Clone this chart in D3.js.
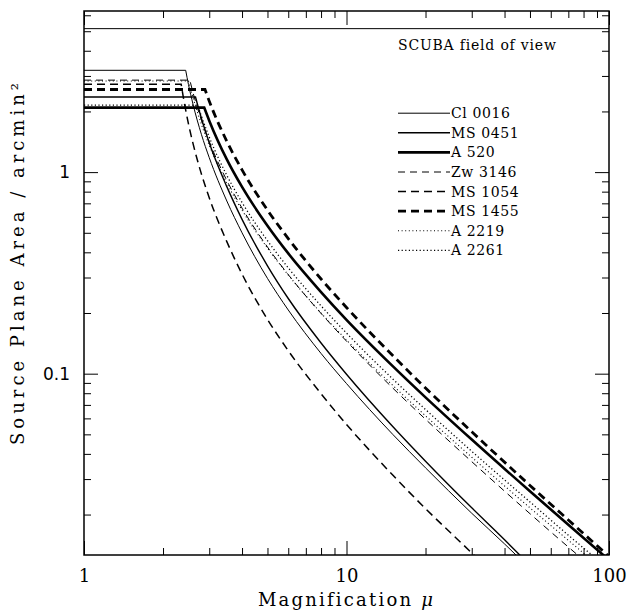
<!DOCTYPE html>
<html>
<head>
<meta charset="utf-8">
<script src="https://cdn.jsdelivr.net/npm/d3@7"></script>
<style>
  html, body { margin: 0; padding: 0; background: #fff; }
  svg { display: block; }
</style>
</head>
<body>
<div id="chart"></div>
<script>
// ---- data ----
const seriesNames = ["Cl 0016", "MS 0451", "A 520", "Zw 3146", "MS 1054", "MS 1455", "A 2219", "A 2261"];

const cl0016 = [[1,3.20],[2.44,3.20],[2.5,2.72],[2.6,2.18],[2.8,1.54],[3,1.18],[3.5,0.719],[4,0.500],[5,0.297],[6,0.207],[8,0.126],[10,0.0893],[15,0.0500],[20,0.0341],[30,0.0203],[40,0.0143],[50,0.0108]];
const ms0451 = [[1,2.36],[2.66,2.36],[2.7,2.19],[2.8,1.85],[3,1.40],[3.5,0.847],[4,0.583],[5,0.343],[6,0.236],[8,0.142],[10,0.0994],[15,0.0547],[20,0.0368],[30,0.0216],[40,0.0150],[50,0.0112]];
const a520   = [[1,2.09],[2.87,2.09],[3,1.80],[3.5,1.156],[4,0.844],[5,0.542],[6,0.395],[8,0.254],[10,0.185],[15,0.109],[20,0.0763],[30,0.0471],[50,0.0261],[70,0.0178],[100,0.0119]];
const zw3146 = [[1,2.86],[2.53,2.86],[2.6,2.49],[2.8,1.81],[3,1.419],[3.5,0.909],[4,0.663],[5,0.425],[6,0.310],[8,0.199],[10,0.145],[15,0.0849],[20,0.0594],[30,0.0366],[50,0.0202],[70,0.0138],[80,0.0119]];
const ms1054 = [[1,2.73],[2.345,2.73],[2.4,2.28],[2.5,1.737],[2.6,1.392],[2.8,0.980],[3,0.746],[3.5,0.452],[4,0.312],[5,0.186],[6,0.130],[8,0.0795],[10,0.0560],[15,0.0314],[20,0.0214],[30,0.0129],[35,0.0106]];
const ms1455 = [[1,2.57],[2.89,2.57],[3,2.25],[3.5,1.422],[4,1.026],[5,0.648],[6,0.468],[8,0.295],[10,0.213],[15,0.123],[20,0.0849],[30,0.0515],[50,0.0279],[70,0.0188],[100,0.0124]];
const a2219  = [[1,2.83],[2.50,2.83],[2.6,2.35],[2.8,1.728],[3,1.360],[3.5,0.882],[4,0.648],[5,0.420],[6,0.309],[8,0.200],[10,0.147],[15,0.0875],[20,0.0618],[30,0.0385],[50,0.0216],[70,0.0149],[90,0.0113]];
const a2261  = [[1,2.15],[2.71,2.15],[2.8,1.897],[3,1.492],[3.5,0.964],[4,0.707],[5,0.457],[6,0.335],[8,0.217],[10,0.159],[15,0.0942],[20,0.0664],[30,0.0412],[50,0.0231],[70,0.0158],[90,0.0120]];

const scubaFieldArea = 5.15;
const scubaLabel = "SCUBA field of view";

const xMajorTicks = [1, 10, 100];
const xMinorTicks = [2,3,4,5,6,7,8,9,20,30,40,50,60,70,80,90];
const yMajorTicks = [0.1, 1];
const yMinorTicks = [0.02,0.03,0.04,0.05,0.06,0.07,0.08,0.09,0.2,0.3,0.4,0.5,0.6,0.7,0.8,0.9,2,3,4,5,6];
const xTickLabels = ["1", "10", "100"];
const yTickLabels = ["0.1", "1"];
const xTitle = "Magnification ";
const xTitleSymbol = "\u03bc";
const yTitle = "Source Plane Area / arcmin\u00b2";

// ---- styling ----
const seriesData = [cl0016, ms0451, a520, zw3146, ms1054, ms1455, a2219, a2261];
const seriesStyle = [
  {w: 1.0, dash: null},
  {w: 1.4, dash: null},
  {w: 2.6, dash: null},
  {w: 1.0, dash: "7,5"},
  {w: 1.5, dash: "8,5"},
  {w: 2.8, dash: "8,5"},
  {w: 1.1, dash: "1,2.6"},
  {w: 1.3, dash: "1.2,2.4"}
];

const W = 630, H = 611;
const L = 84, R = 609, T = 11, B = 555;

const svg = d3.select("#chart").append("svg")
  .attr("width", W).attr("height", H)
  .attr("viewBox", `0 0 ${W} ${H}`);

const x = d3.scaleLog().domain([1, 100]).range([L, R]);
const y = d3.scaleLog().domain([0.0126, 6.3]).range([B, T]);

svg.append("defs").append("clipPath").attr("id", "plotclip")
  .append("rect").attr("x", L).attr("y", T).attr("width", R - L).attr("height", B - T);

// ---- axes (ticks on all four sides, pointing inward) ----
function fmtFrom(vals, labels) {
  return d => { const i = vals.indexOf(d); return i >= 0 ? labels[i] : ""; };
}
const axisG = svg.append("g").attr("class", "axes");

function addAxis(gen, transform, ticks, size, fmt, pad) {
  const g = axisG.append("g").attr("transform", transform)
    .call(gen.tickValues(ticks).tickSizeInner(-size).tickSizeOuter(0)
      .tickPadding(pad).tickFormat(fmt));
  g.select(".domain").remove();
  g.selectAll(".tick line").attr("stroke", "#000").attr("stroke-width", 1);
  return g;
}
const none = () => "";
// bottom
const xb = addAxis(d3.axisBottom(x), `translate(0,${B})`, xMajorTicks, 14, fmtFrom(xMajorTicks, xTickLabels), 14);
xb.selectAll("text").attr("font-family", "DejaVu Serif").attr("font-size", 18).attr("fill", "#000");
addAxis(d3.axisBottom(x), `translate(0,${B})`, xMinorTicks, 7, none, 3);
// top
addAxis(d3.axisTop(x), `translate(0,${T})`, xMajorTicks, 14, none, 3);
addAxis(d3.axisTop(x), `translate(0,${T})`, xMinorTicks, 7, none, 3);
// left
const yl = addAxis(d3.axisLeft(y), `translate(${L},0)`, yMajorTicks, 14, fmtFrom(yMajorTicks, yTickLabels), 14);
yl.selectAll("text").attr("font-family", "DejaVu Sans").attr("font-size", 17).attr("fill", "#000");
addAxis(d3.axisLeft(y), `translate(${L},0)`, yMinorTicks, 7, none, 3);
// right
addAxis(d3.axisRight(y), `translate(${R},0)`, yMajorTicks, 14, none, 3);
addAxis(d3.axisRight(y), `translate(${R},0)`, yMinorTicks, 7, none, 3);

// frame
svg.append("rect").attr("x", L).attr("y", T).attr("width", R - L).attr("height", B - T)
  .attr("fill", "none").attr("stroke", "#000").attr("stroke-width", 1.5);

// ---- curves ----
const plot = svg.append("g").attr("clip-path", "url(#plotclip)");

// SCUBA field-of-view line
plot.append("line")
  .attr("x1", x(1)).attr("x2", x(100))
  .attr("y1", y(scubaFieldArea)).attr("y2", y(scubaFieldArea))
  .attr("stroke", "#000").attr("stroke-width", 1);

const flatLine = d3.line().x(d => x(d[0])).y(d => y(d[1]));
const curveLine = d3.line().x(d => x(d[0])).y(d => y(d[1])).curve(d3.curveMonotoneX);

seriesData.forEach((data, i) => {
  const flat = flatLine(data.slice(0, 2));
  const tail = curveLine(data.slice(1)).replace(/^M[^CL]*/, "");
  const st = seriesStyle[i];
  plot.append("path")
    .attr("d", flat + tail)
    .attr("fill", "none")
    .attr("stroke", "#000")
    .attr("stroke-width", st.w)
    .attr("stroke-dasharray", st.dash)
    .attr("stroke-linejoin", "miter");
});

// ---- legend ----
svg.append("text").attr("x", 398).attr("y", 50)
  .attr("font-family", "DejaVu Serif").attr("font-size", 14).attr("fill", "#000")
  .attr("letter-spacing", 0.8)
  .text(scubaLabel);

const lg = svg.append("g");
seriesNames.forEach((name, i) => {
  const yy = 113.2 + 19.6 * i;
  const st = seriesStyle[i];
  lg.append("line").attr("x1", 398).attr("x2", 450).attr("y1", yy).attr("y2", yy)
    .attr("stroke", "#000").attr("stroke-width", st.w).attr("stroke-dasharray", st.dash);
  lg.append("text").attr("x", 451).attr("y", yy).attr("dy", "0.36em")
    .attr("font-family", "DejaVu Serif").attr("font-size", 14).attr("fill", "#000")
    .attr("letter-spacing", 0.6)
    .text(name);
});

// ---- axis titles ----
const xt = svg.append("text").attr("x", (L + R) / 2).attr("y", 606)
  .attr("text-anchor", "middle")
  .attr("font-family", "DejaVu Serif").attr("font-size", 18).attr("fill", "#000")
  .attr("letter-spacing", 2.2);
xt.append("tspan").text(xTitle);
xt.append("tspan").attr("font-style", "italic").text(xTitleSymbol);

svg.append("text")
  .attr("transform", `translate(24,262) rotate(-90)`)
  .attr("text-anchor", "middle")
  .attr("font-family", "DejaVu Serif").attr("font-size", 18).attr("fill", "#000")
  .attr("letter-spacing", 4)
  .text(yTitle);
</script>
</body>
</html>
